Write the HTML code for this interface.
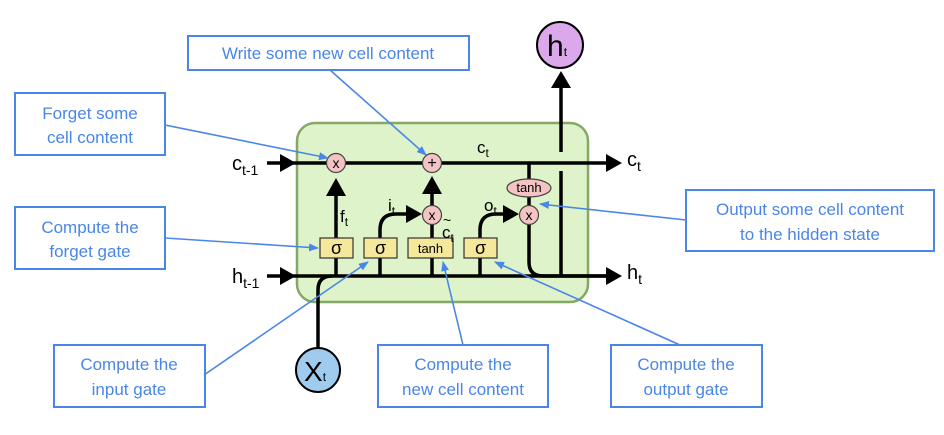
<!DOCTYPE html>
<html><head><meta charset="utf-8"><style>
html,body{margin:0;padding:0;background:#fff;}
svg{display:block;font-family:"Liberation Sans",sans-serif;}
.lb{fill:#4a86e8;font-size:17px;text-anchor:middle;}
.bx{fill:#fff;stroke:#4a86e8;stroke-width:2;}
.ln{stroke:#4a86e8;stroke-width:1.6;fill:none;}
.k{stroke:#000;stroke-width:3.5;fill:none;}
</style></head><body>
<svg width="944" height="435" viewBox="0 0 944 435">
<defs>
<marker id="ab" markerWidth="10" markerHeight="10" refX="9" refY="5" orient="auto" markerUnits="userSpaceOnUse"><path d="M0,1 L10,5 L0,9 Z" fill="#4a86e8"/></marker>
</defs>
<rect x="297" y="123" width="291" height="179" rx="18" fill="#def3c9" stroke="#86a866" stroke-width="2.5"/>
<line x1="293" y1="163" x2="608" y2="163" class="k"/>
<polygon points="606,154 622,163 606,172" fill="#000"/>
<line x1="267" y1="163" x2="282" y2="163" class="k"/>
<polygon points="280,154 296,163 280,172" fill="#000"/>
<line x1="267" y1="276" x2="282" y2="276" class="k"/>
<polygon points="280,267 296,276 280,285" fill="#000"/>
<line x1="293" y1="276" x2="608" y2="276" class="k"/>
<path d="M318,348 L318,290 Q318,276 332,276" class="k"/>
<line x1="336" y1="276" x2="336" y2="195" class="k"/>
<polygon points="326,196 336,178 346,196" fill="#000"/>
<path d="M380,276 L380,230 Q380,214 396,214 L408,214" class="k"/>
<polygon points="406,205 422,214 406,223" fill="#000"/>
<line x1="432" y1="276" x2="432" y2="193" class="k"/>
<polygon points="422,194 432,176 442,194" fill="#000"/>
<path d="M480,276 L480,230 Q480,214 496,214 L505,214" class="k"/>
<polygon points="503,205 519,214 503,223" fill="#000"/>
<path d="M529,163 L529,262 Q529,276 543,276 L608,276" class="k"/>
<polygon points="606,267 622,276 606,285" fill="#000"/>
<line x1="561" y1="171" x2="561" y2="276" class="k"/>
<line x1="561" y1="152" x2="561" y2="88" class="k"/>
<polygon points="551,88 561,71 571,88" fill="#000"/>
<g stroke="#333" stroke-width="1.2" fill="#f5e89a">
<rect x="320" y="238" width="33" height="20"/>
<rect x="364" y="238" width="33" height="20"/>
<rect x="408" y="238" width="45" height="20"/>
<rect x="464" y="238" width="33" height="20"/>
</g>
<g font-size="18" text-anchor="middle" fill="#000">
<text x="336.5" y="254">σ</text><text x="380.5" y="254">σ</text><text x="480.5" y="254">σ</text>
</g>
<text x="430.5" y="253" font-size="13" text-anchor="middle">tanh</text>
<g stroke="#444" stroke-width="1.2" fill="#f4c4c4">
<circle cx="336" cy="163" r="9.5"/><circle cx="432" cy="163" r="9.5"/>
<circle cx="432" cy="215" r="9.5"/><circle cx="529" cy="215" r="9.5"/>
<ellipse cx="529" cy="188" rx="22" ry="9"/>
</g>
<g text-anchor="middle" font-size="14" fill="#000">
<text x="336" y="168">x</text><text x="432" y="168" font-size="16">+</text>
<text x="432" y="220">x</text><text x="529" y="220">x</text>
<text x="529" y="192" font-size="13">tanh</text>
</g>
<text x="340" y="222" font-size="17">f<tspan font-size="12" dy="4">t</tspan></text>
<text x="388" y="211" font-size="17">i<tspan font-size="12" dy="4">t</tspan></text>
<text x="443" y="225" font-size="14">~</text>
<text x="442" y="238" font-size="17">c<tspan font-size="12" dy="4">t</tspan></text>
<text x="484" y="211" font-size="17">o<tspan font-size="12" dy="4">t</tspan></text>
<text x="477" y="153" font-size="17">c<tspan font-size="12" dy="4">t</tspan></text>
<text x="232" y="170" font-size="20">c<tspan font-size="14" dy="5">t-1</tspan></text>
<text x="232" y="283" font-size="20">h<tspan font-size="14" dy="5">t-1</tspan></text>
<text x="627" y="166" font-size="20">c<tspan font-size="14" dy="5">t</tspan></text>
<text x="627" y="279" font-size="20">h<tspan font-size="14" dy="5">t</tspan></text>
<circle cx="560" cy="45" r="23" fill="#dca8ec" stroke="#000" stroke-width="2"/>
<text x="547" y="56" font-size="30">h<tspan font-size="12">t</tspan></text>
<circle cx="318" cy="370" r="22" fill="#9fcbee" stroke="#000" stroke-width="2"/>
<text x="304" y="381" font-size="28">X<tspan font-size="12">t</tspan></text>
<rect class="bx" x="188" y="36" width="281" height="34"/>
<text class="lb" x="328" y="59">Write some new cell content</text>
<rect class="bx" x="15" y="93" width="150" height="62"/>
<text class="lb" x="90" y="119">Forget some</text><text class="lb" x="90" y="143">cell content</text>
<rect class="bx" x="15" y="207" width="150" height="62"/>
<text class="lb" x="90" y="233">Compute the</text><text class="lb" x="90" y="257">forget gate</text>
<rect class="bx" x="686" y="190" width="248" height="61"/>
<text class="lb" x="810" y="215">Output some cell content</text><text class="lb" x="810" y="240">to the hidden state</text>
<rect class="bx" x="54" y="345" width="151" height="62"/>
<text class="lb" x="129" y="370">Compute the</text><text class="lb" x="129" y="395">input gate</text>
<rect class="bx" x="378" y="345" width="170" height="62"/>
<text class="lb" x="463" y="370">Compute the</text><text class="lb" x="463" y="395">new cell content</text>
<rect class="bx" x="611" y="345" width="151" height="62"/>
<text class="lb" x="686" y="370">Compute the</text><text class="lb" x="686" y="395">output gate</text>
<line class="ln" x1="330" y1="70" x2="426" y2="155" marker-end="url(#ab)"/>
<line class="ln" x1="165" y1="125" x2="328" y2="158" marker-end="url(#ab)"/>
<line class="ln" x1="165" y1="238" x2="318" y2="248" marker-end="url(#ab)"/>
<line class="ln" x1="686" y1="220" x2="540" y2="204" marker-end="url(#ab)"/>
<line class="ln" x1="204" y1="375" x2="368" y2="262" marker-end="url(#ab)"/>
<line class="ln" x1="463" y1="345" x2="443" y2="262" marker-end="url(#ab)"/>
<line class="ln" x1="680" y1="345" x2="495" y2="262" marker-end="url(#ab)"/>
</svg>
</body></html>
